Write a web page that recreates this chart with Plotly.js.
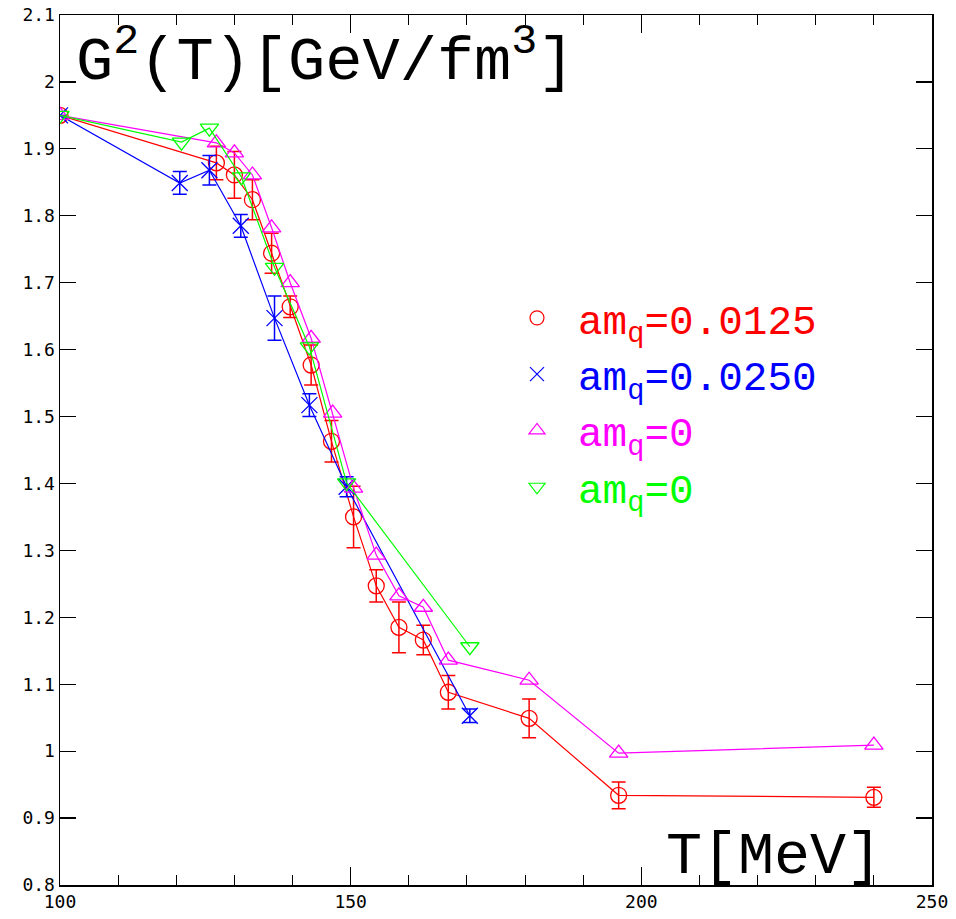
<!DOCTYPE html>
<html><head><meta charset="utf-8">
<script src="https://cdn.plot.ly/plotly-3.0.1.min.js"></script>
<style>html,body{margin:0;padding:0;background:#fff}</style>
</head><body>
<div id="chart" style="width:956px;height:919px"></div>
<script>
// amq = 0.0125 (red circles)
const redT   = [100, 126.9, 130.0, 133.1, 136.4, 139.6, 143.2, 146.7, 150.5, 154.4, 158.3, 162.5, 166.8, 180.7, 196.1, 240.0];
const redG   = [1.950, 1.879, 1.861, 1.824, 1.744, 1.664, 1.577, 1.463, 1.350, 1.247, 1.185, 1.166, 1.088, 1.049, 0.934, 0.931];
const redErr = [0, 0.025, 0.035, 0.030, 0.030, 0.016, 0.030, 0.031, 0.046, 0.024, 0.038, 0.022, 0.025, 0.029, 0.020, 0.015];
// amq = 0.0250 (blue crosses)
const blueT   = [100, 120.6, 125.7, 131.1, 136.9, 142.9, 149.3, 170.5];
const blueG   = [1.950, 1.849, 1.868, 1.785, 1.647, 1.517, 1.395, 1.053];
const blueErr = [0, 0.017, 0.022, 0.017, 0.033, 0.017, 0.015, 0.010];
// amq = 0 (magenta up triangles)
const magT = [100, 126.9, 130.0, 133.1, 136.4, 139.6, 143.2, 146.9, 150.5, 154.4, 158.3, 162.5, 166.8, 180.7, 196.1, 240.0];
const magG = [1.950, 1.909, 1.894, 1.861, 1.782, 1.700, 1.617, 1.505, 1.393, 1.293, 1.232, 1.215, 1.136, 1.106, 0.997, 1.009];
// amq = 0 (green down triangles)
const grnT = [100, 120.9, 125.7, 131.2, 136.9, 142.9, 149.3, 170.5];
const grnG = [1.950, 1.910, 1.931, 1.858, 1.723, 1.604, 1.401, 1.156];

const names = ['am<sub>q</sub>=0.0125', 'am<sub>q</sub>=0.0250', 'am<sub>q</sub>=0', 'am<sub>q</sub>=0'];
const colors = ['#ff0000', '#0000ff', '#ff00ff', '#00ff00'];
const symbols = ['circle-open', 'x-thin-open', 'triangle-up-open', 'triangle-down-open'];

const traces = [
  {x: redT, y: redG, error_y: {type:'data', array: redErr, visible:true, color: colors[0], thickness:1.5, width:7}},
  {x: blueT, y: blueG, error_y: {type:'data', array: blueErr, visible:true, color: colors[1], thickness:1.5, width:7}},
  {x: magT, y: magG},
  {x: grnT, y: grnG}
].map((t, i) => Object.assign(t, {
  type: 'scatter', mode: 'lines+markers', showlegend: false,
  line: {color: colors[i], width: 1.2},
  marker: {symbol: symbols[i], size: 16, color: colors[i], line: {color: colors[i], width: 1.3}}
}));

// legend-only entries (markers only)
names.forEach((n, i) => {
  traces.push({
    type: 'scatter', mode: 'markers', x: [null], y: [null], showlegend: true,
    name: '<span style="color:' + colors[i] + '">' + n + '</span>',
    marker: {symbol: symbols[i], size: 14, color: colors[i], line: {color: colors[i], width: 1.2}}
  });
});

const mono = 'Liberation Mono, DejaVu Sans Mono, monospace';
const layout = {
  width: 956, height: 919,
  margin: {l: 60, r: 24, t: 15, b: 34},
  paper_bgcolor: '#fff', plot_bgcolor: '#fff',
  showlegend: true,
  legend: {x: 0.5, y: 0.69, xanchor: 'left', yanchor: 'top', bgcolor: 'rgba(0,0,0,0)',
           font: {family: mono, size: 41, color: '#000'}, tracegroupgap: 0, itemwidth: 72},
  xaxis: {range: [100, 250], dtick: 50, tick0: 100, ticks: 'inside', ticklen: 18, tickwidth: 1.2,
          tickcolor: '#000', showline: true, linecolor: '#000', linewidth: 1.5, mirror: 'ticks',
          showgrid: false, zeroline: false,
          minor: {dtick: 10, ticks: 'inside', ticklen: 10, tickwidth: 1, tickcolor: '#000', showgrid: false},
          tickfont: {family: 'DejaVu Sans Mono, monospace', size: 18, color: '#000'}},
  yaxis: {range: [0.8, 2.1], dtick: 0.1, tick0: 0.8, ticks: 'inside', ticklen: 16, tickwidth: 1.2,
          tickcolor: '#000', showline: true, linecolor: '#000', linewidth: 1.5, mirror: 'ticks',
          showgrid: false, zeroline: false,
          tickfont: {family: 'DejaVu Sans Mono, monospace', size: 18, color: '#000'}},
  annotations: [
    {text: 'G<sup>2</sup>(T)[GeV/fm<sup>3</sup>]', xref: 'paper', yref: 'paper', x: 0.016, y: 1.0,
     xanchor: 'left', yanchor: 'top', showarrow: false, font: {family: mono, size: 62, color: '#000'}},
    {text: 'T[MeV]', xref: 'paper', yref: 'paper', x: 0.945, y: -0.009,
     xanchor: 'right', yanchor: 'bottom', showarrow: false, font: {family: mono, size: 60, color: '#000'}}
  ]
};

Plotly.newPlot('chart', traces, layout, {displayModeBar: false, staticPlot: true});
</script>
</body></html>
